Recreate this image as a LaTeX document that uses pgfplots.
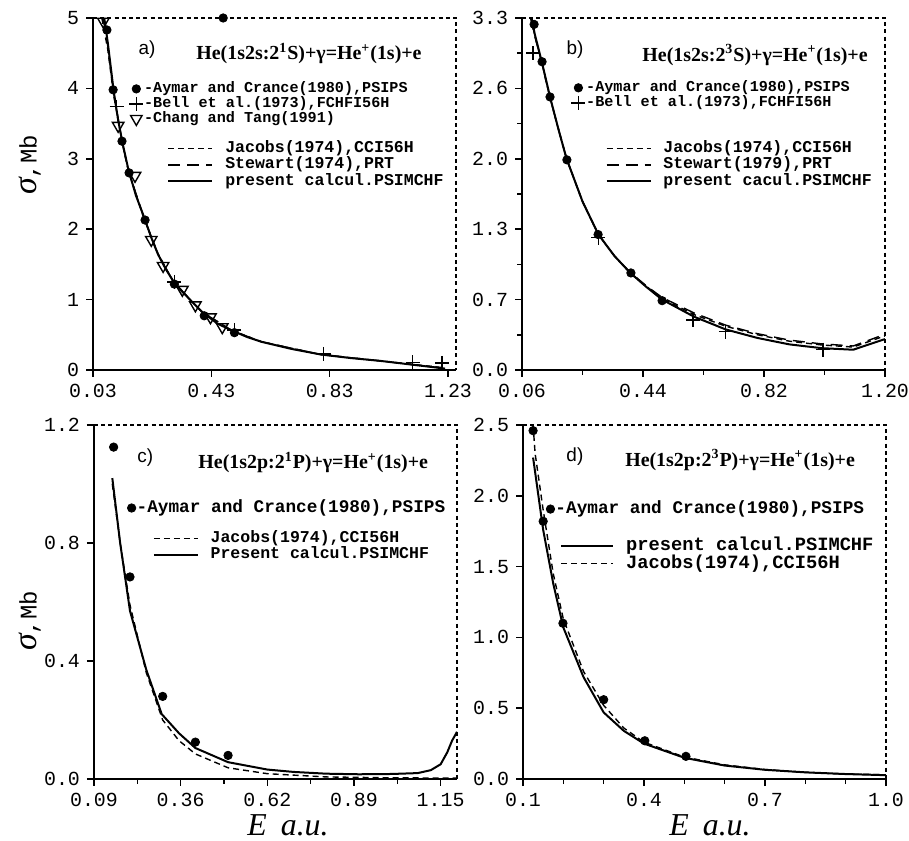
\documentclass[border=0pt]{standalone}
\usepackage{fontspec}
\setmainfont{Liberation Serif}
\setmonofont{Liberation Mono}
\setsansfont{Liberation Sans}
\usepackage{pgfplots}
\pgfplotsset{compat=1.18}
\pgfplotsset{
 panel/.style={scale only axis, width=181.5bp, axis lines=left,
   axis line style={-, line width=0.9bp}, tick align=outside,
   major tick length=3.5bp, minor tick length=2.5bp,
   every tick/.style={black, line width=0.8bp},
   tick label style={font=\ttfamily\fontsize{10}{12}\selectfont},
   /pgf/number format/assume math mode=true},
 jac/.style={black, line width=0.7bp, dash pattern=on 3bp off 2bp},
 stw/.style={black, line width=0.7bp, dash pattern=on 6bp off 3.5bp},
 pre/.style={black, line width=1bp},
 aym/.style={only marks, mark=*, mark size=2.1bp, black},
 bel/.style={only marks, mark=+, mark size=3.5bp, black, mark options={line width=0.7bp}},
 cha/.style={only marks, mark=triangle, mark size=3.3bp, black, mark options={rotate=180, line width=0.7bp, fill=white}},
 marklegend/.style={legend image code/.code={\draw[##1] plot coordinates {(0bp,0bp)};}},
 linelegend/.style={legend image code/.code={\draw[##1] (0bp,0bp) -- (#1bp,0bp); \path (#1bp+5.5bp,0bp);}},
 mleg/.style n args={3}{legend style={at={(#1,#2)}, anchor=north west, draw=none, fill=none, inner sep=0pt,
   cells={anchor=west}, font=\ttfamily\bfseries\fontsize{#3}{#3}\selectfont,
   nodes={inner sep=0.4bp, text height=0.68*#3bp, text depth=0.2*#3bp}}},
}
\tikzset{frame/.style={line width=0.8bp, dash pattern=on 2bp off 1.6bp}}
\newcommand{\ttl}{\fontsize{10}{12}\selectfont\bfseries}
\newcommand{\lbl}{\sffamily\fontsize{9.5}{11}\selectfont}
\begin{document}
\begin{tikzpicture}
\path[use as bounding box] (0,0) rectangle (454.5bp,420.5bp);
% ---------------- panel a
\begin{axis}[panel, name=pa, height=176bp, at={(46.5bp,235.5bp)}, anchor=south west,
  xmin=0.03, xmax=1.257, ymin=0, ymax=5,
  xtick={0.03,0.43,0.83,1.23}, xticklabels={0.03,0.43,0.83,1.23},
  ytick={0,1,2,3,4,5}, yticklabels={0,1,2,3,4,5},
  marklegend, mleg={0.099}{0.821}{7.6}]
\addplot[jac, forget plot] coordinates {(0.060,5.0)(0.08,4.55)(0.1,3.90)(0.13,3.20)(0.15,2.82)(0.2,2.18)(0.25,1.65)(0.3,1.27)(0.36,0.99)(0.4,0.82)(0.5,0.56)(0.6,0.40)(0.8,0.22)(1.0,0.13)(1.22,0.03)};
\addplot[stw, forget plot] coordinates {(0.064,5.0)(0.08,4.60)(0.1,3.93)(0.13,3.21)(0.15,2.83)(0.2,2.19)(0.25,1.64)(0.3,1.27)(0.36,0.99)(0.4,0.82)(0.5,0.56)(0.6,0.40)(0.8,0.22)(1.0,0.13)(1.22,0.025)};
\addplot[pre, forget plot] coordinates {(0.068,5.0)(0.08,4.65)(0.1,3.96)(0.115,3.55)(0.13,3.22)(0.15,2.84)(0.175,2.48)(0.2,2.2)(0.227,1.88)(0.25,1.64)(0.275,1.44)(0.3,1.27)(0.33,1.12)(0.36,0.99)(0.4,0.82)(0.45,0.66)(0.5,0.56)(0.55,0.47)(0.6,0.40)(0.7,0.30)(0.8,0.22)(0.9,0.17)(1.0,0.13)(1.1,0.08)(1.22,0.02)};
\addplot[aym] coordinates {(0.077,4.83)(0.098,3.98)(0.128,3.25)(0.152,2.80)(0.206,2.13)(0.305,1.22)(0.406,0.77)(0.508,0.53)(0.47,5.0)};
\addlegendentry{-Aymar and Crance(1980),PSIPS}
\addplot[bel] coordinates {(0.11,3.74)(0.305,1.25)(0.508,0.57)(0.81,0.23)(1.11,0.11)(1.21,0.10)};
\addlegendentry{-Bell et al.(1973),FCHFI56H}
\addplot[cha] coordinates {(0.065,4.95)(0.115,3.47)(0.172,2.76)(0.227,1.85)(0.267,1.48)(0.332,1.14)(0.376,0.92)(0.427,0.75)(0.467,0.61)};
\addlegendentry{-Chang and Tang(1991)}
\node[font=\lbl] at (rel axis cs:0.149,0.909) {a)};
\node[font=\ttl] at (rel axis cs:0.595,0.90) {He(1s2s:2\textsuperscript{1}S)+γ=He\textsuperscript{+}(1s)+e};
\end{axis}
\begin{axis}[scale only axis, width=181.5bp, height=176bp, at={(46.5bp,235.5bp)}, anchor=south west,
  hide axis, xmin=0, xmax=1, ymin=0, ymax=1, linelegend=22, mleg={0.204}{0.653}{8.3}]
\addlegendimage{jac}\addlegendentry{Jacobs(1974),CCI56H}
\addlegendimage{stw}\addlegendentry{Stewart(1974),PRT}
\addlegendimage{pre}\addlegendentry{present calcul.PSIMCHF}
\end{axis}
\draw[frame] (pa.north west) -- (pa.north east) -- (pa.south east);
% ---------------- panel b
\begin{axis}[panel, name=pb, height=176bp, at={(261bp,235.5bp)}, anchor=south west,
  xmin=0.06, xmax=1.2, ymin=0, ymax=3.3,
  xtick={0.06,0.44,0.82,1.20}, xticklabels={0.06,0.44,0.82,1.20}, minor x tick num=1,
  ytick={0,0.66,1.32,1.98,2.64,3.3}, yticklabels={0.0,0.7,1.3,2.0,2.6,3.3}, minor y tick num=1,
  marklegend, mleg={0.135}{0.824}{7.6}]
\addplot[jac, forget plot] coordinates {(0.088,3.3)(0.1,3.14)(0.123,2.87)(0.148,2.55)(0.2,1.98)(0.25,1.58)(0.3,1.27)(0.35,1.07)(0.4,0.91)(0.45,0.785)(0.5,0.67)(0.6,0.52)(0.7,0.41)(0.8,0.33)(0.9,0.27)(1.0,0.235)(1.1,0.215)(1.2,0.32)};
\addplot[stw, forget plot] coordinates {(0.087,3.3)(0.1,3.13)(0.123,2.87)(0.148,2.55)(0.2,1.98)(0.25,1.58)(0.3,1.27)(0.35,1.07)(0.4,0.915)(0.45,0.79)(0.5,0.68)(0.6,0.535)(0.7,0.42)(0.8,0.34)(0.9,0.28)(1.0,0.245)(1.1,0.225)(1.2,0.335)};
\addplot[pre, forget plot] coordinates {(0.09,3.3)(0.1,3.15)(0.123,2.88)(0.148,2.56)(0.175,2.25)(0.2,1.98)(0.25,1.58)(0.3,1.27)(0.35,1.07)(0.4,0.91)(0.45,0.78)(0.5,0.66)(0.6,0.50)(0.7,0.38)(0.8,0.30)(0.9,0.24)(1.0,0.205)(1.1,0.19)(1.2,0.29)};
\addplot[aym] coordinates {(0.098,3.24)(0.123,2.89)(0.148,2.56)(0.201,1.97)(0.299,1.27)(0.402,0.91)(0.50,0.65)};
\addlegendentry{-Aymar and Crance(1980),PSIPS}
\addplot[bel] coordinates {(0.095,2.97)(0.30,1.24)(0.597,0.47)(0.70,0.36)(1.005,0.19)};
\addlegendentry{-Bell et al.(1973),FCHFI56H}
\node[font=\lbl] at (rel axis cs:0.146,0.909) {b)};
\node[font=\ttl] at (rel axis cs:0.642,0.895) {He(1s2s:2\textsuperscript{3}S)+γ=He\textsuperscript{+}(1s)+e};
\end{axis}
\begin{axis}[scale only axis, width=181.5bp, height=176bp, at={(261bp,235.5bp)}, anchor=south west,
  hide axis, xmin=0, xmax=1, ymin=0, ymax=1, linelegend=22, mleg={0.229}{0.653}{8.3}]
\addlegendimage{jac}\addlegendentry{Jacobs(1974),CCI56H}
\addlegendimage{stw}\addlegendentry{Stewart(1979),PRT}
\addlegendimage{pre}\addlegendentry{present cacul.PSIMCHF}
\end{axis}
\draw[frame] (pb.north west) -- (pb.north east) -- (pb.south east);
% ---------------- panel c
\begin{axis}[panel, name=pc, height=177bp, at={(47bp,31bp)}, anchor=south west,
  xmin=0.09, xmax=1.2, ymin=0, ymax=1.2,
  xtick={0.09,0.355,0.62,0.885,1.15}, xticklabels={0.09,0.36,0.62,0.89,1.15}, minor x tick num=1,
  ytick={0,0.4,0.8,1.2}, yticklabels={0.0,0.4,0.8,1.2},
  marklegend, mleg={0.091}{0.791}{8.9}]
\addplot[jac, forget plot] coordinates {(0.146,1.0)(0.17,0.80)(0.2,0.59)(0.25,0.36)(0.3,0.20)(0.35,0.13)(0.4,0.085)(0.5,0.038)(0.62,0.018)(0.8,0.007)(1.0,0.004)(1.2,0.003)};
\addplot[pre, forget plot] coordinates {(0.146,1.02)(0.17,0.80)(0.2,0.57)(0.25,0.37)(0.297,0.22)(0.35,0.155)(0.4,0.105)(0.5,0.057)(0.62,0.032)(0.7,0.024)(0.8,0.018)(0.9,0.016)(1.0,0.017)(1.08,0.02)(1.12,0.03)(1.15,0.05)(1.17,0.09)(1.185,0.13)(1.2,0.16)};
\addplot[aym] coordinates {(0.15,1.125)(0.20,0.685)(0.30,0.28)(0.40,0.125)(0.50,0.08)};
\addlegendentry{-Aymar and Crance(1980),PSIPS}
\node[font=\lbl] at (rel axis cs:0.141,0.907) {c)};
\node[font=\ttl] at (rel axis cs:0.604,0.895) {He(1s2p:2\textsuperscript{1}P)+γ=He\textsuperscript{+}(1s)+e};
\end{axis}
\begin{axis}[scale only axis, width=181.5bp, height=177bp, at={(47bp,31bp)}, anchor=south west,
  hide axis, xmin=0, xmax=1, ymin=0, ymax=1, linelegend=22, mleg={0.161}{0.703}{8.3}]
\addlegendimage{jac}\addlegendentry{Jacobs(1974),CCI56H}
\addlegendimage{pre}\addlegendentry{Present calcul.PSIMCHF}
\end{axis}
\draw[frame] (pc.north west) -- (pc.north east) -- (pc.south east);
% ---------------- panel d
\begin{axis}[panel, name=pd, height=177bp, at={(261.5bp,31bp)}, anchor=south west,
  xmin=0.1, xmax=1.0, ymin=0, ymax=2.5,
  xtick={0.1,0.4,0.7,1.0}, xticklabels={0.1,0.4,0.7,1.0}, minor x tick num=2,
  ytick={0,0.5,1,1.5,2,2.5}, yticklabels={0.0,0.5,1.0,1.5,2.0,2.5},
  marklegend, mleg={0.063}{0.788}{8.9}]
\addplot[jac, forget plot] coordinates {(0.125,2.5)(0.13,2.3)(0.15,1.9)(0.175,1.45)(0.2,1.13)(0.25,0.76)(0.3,0.52)(0.35,0.36)(0.4,0.26)(0.5,0.155)(0.6,0.10)(0.7,0.067)(0.8,0.047)(0.9,0.035)(1.0,0.03)};
\addplot[pre, forget plot] coordinates {(0.125,2.27)(0.15,1.76)(0.175,1.38)(0.2,1.07)(0.25,0.72)(0.3,0.47)(0.35,0.34)(0.4,0.25)(0.5,0.15)(0.6,0.095)(0.7,0.065)(0.8,0.047)(0.9,0.035)(1.0,0.027)};
\addplot[aym] coordinates {(0.125,2.46)(0.15,1.82)(0.199,1.10)(0.30,0.56)(0.402,0.27)(0.504,0.16)};
\addlegendentry{-Aymar and Crance(1980),PSIPS}
\node[font=\lbl] at (rel axis cs:0.143,0.91) {d)};
\node[font=\ttl] at (rel axis cs:0.598,0.901) {He(1s2p:2\textsuperscript{3}P)+γ=He\textsuperscript{+}(1s)+e};
\end{axis}
\begin{axis}[scale only axis, width=181.5bp, height=177bp, at={(261.5bp,31bp)}, anchor=south west,
  hide axis, xmin=0, xmax=1, ymin=0, ymax=1, linelegend=26, mleg={0.102}{0.686}{9.4}]
\addlegendimage{pre}\addlegendentry{present calcul.PSIMCHF}
\addlegendimage{jac}\addlegendentry{Jacobs(1974),CCI56H}
\end{axis}
\draw[frame] (pd.north west) -- (pd.north east) -- (pd.south east);
% ---------------- axis titles
\node[rotate=90] at (15bp,338bp) {{\fontsize{17}{17}\selectfont\itshape σ}{\ttfamily\fontsize{12}{12}\selectfont ,Mb}};
\node[rotate=90] at (15bp,110bp) {{\fontsize{17}{17}\selectfont\itshape σ}{\ttfamily\fontsize{12}{12}\selectfont ,Mb}};
\node at (144bp,8bp) {\fontsize{16}{16}\selectfont\itshape E\hspace{7bp}a.u.};
\node at (355bp,8bp) {\fontsize{16}{16}\selectfont\itshape E\hspace{7bp}a.u.};
\end{tikzpicture}
\end{document}
